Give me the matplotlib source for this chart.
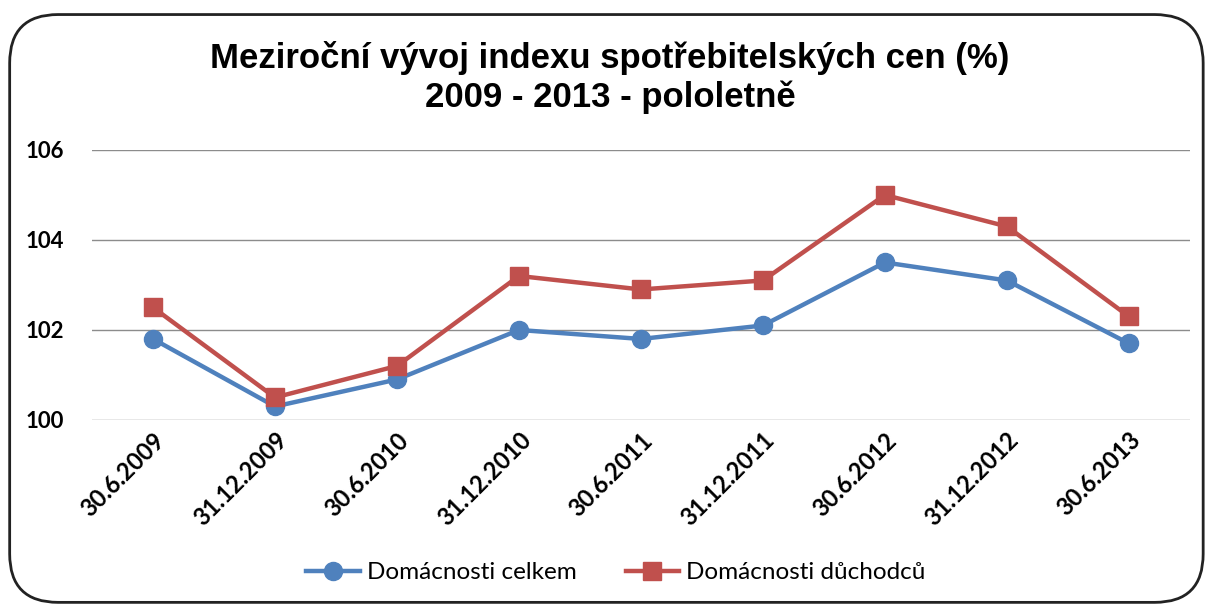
import matplotlib.pyplot as plt
from matplotlib.patches import FancyBboxPatch

# data
obdobi = ['30.6.2009', '31.12.2009', '30.6.2010', '31.12.2010', '30.6.2011',
          '31.12.2011', '30.6.2012', '31.12.2012', '30.6.2013']
celkem = [101.8, 100.3, 100.9, 102.0, 101.8, 102.1, 103.5, 103.1, 101.7]
duchodci = [102.5, 100.5, 101.2, 103.2, 102.9, 103.1, 105.0, 104.3, 102.3]

modra = '#4F81BD'
cervena = '#C0504D'

fig = plt.figure(figsize=(12.08, 6.06), dpi=100)

# rounded frame round the whole chart
ramecek = FancyBboxPatch((0.008, 0.006), 0.988, 0.97,
                         boxstyle='round,pad=0,rounding_size=0.04',
                         transform=fig.transFigure, fill=False,
                         edgecolor='#222222', linewidth=2, mutation_aspect=2.0)
fig.patches.append(ramecek)

ax = fig.add_axes([0.0762, 0.307, 0.9088, 0.4455])
x = list(range(len(obdobi)))

ax.plot(x, celkem, color=modra, linewidth=3.2, marker='o', markersize=13,
        label='Domácnosti celkem', zorder=3)
ax.plot(x, duchodci, color=cervena, linewidth=3.2, marker='s', markersize=13,
        label='Domácnosti důchodců', zorder=4)

ax.set_xlim(-0.5, 8.5)
ax.set_ylim(100, 106)
ax.set_yticks([100, 102, 104, 106])
ax.grid(axis='y', color='#8c8c8c', linewidth=1)
ax.set_axisbelow(True)
for s in ax.spines.values():
    s.set_visible(False)
ax.tick_params(length=0)
ax.tick_params(axis='y', pad=20)
ax.tick_params(axis='x', pad=6)

ax.set_xticks(x)
ax.set_xticklabels(obdobi, rotation=45, ha='right', rotation_mode='anchor',
                   fontsize=17, fontweight='bold', family='Lato')
for t in ax.get_yticklabels():
    t.set_fontsize(16)
    t.set_fontweight('bold')
    t.set_family('Lato')

fig.text(0.505, 0.872, 'Meziroční vývoj indexu spotřebitelských cen (%)\n2009 - 2013 - pololetně',
         ha='center', va='center', fontsize=25, fontweight='bold',
         family='Liberation Sans', linespacing=1.2)

fig.legend(loc='center', bbox_to_anchor=(0.51, 0.055), ncol=2, frameon=False,
           prop={'family': 'Lato', 'size': 17.5}, handlelength=2.2,
           columnspacing=2.0, handletextpad=0.3)

fig.savefig('out.png', dpi=100)
